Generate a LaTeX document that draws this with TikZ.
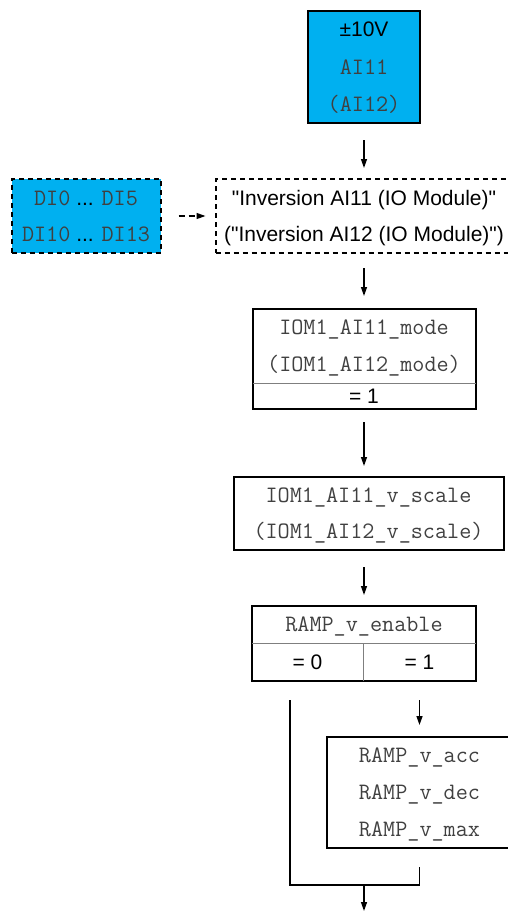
\documentclass[tikz,border=0pt]{standalone}
\usepackage{fontspec}
\setmainfont{Liberation Sans}
\usepackage{tikz}
\usetikzlibrary{positioning,arrows.meta}
\definecolor{blk}{HTML}{000000}
\definecolor{src}{HTML}{00B0F0}
\definecolor{par}{HTML}{404040}
\definecolor{sepc}{HTML}{7F7F7F}
\newcommand{\pn}[1]{{\fontsize{23.5}{0}\selectfont\ttfamily\color{par}#1}}
\newcommand{\qq}{\textquotedbl}
\tikzset{
  >={Triangle[length=9pt,width=6pt]},
  block/.style={draw=blk, line width=2pt, inner sep=0pt, outer sep=0pt, align=center,
                text depth=0pt, font=\fontsize{21}{37}\selectfont},
  srcbox/.style={block, fill=src},
  dblock/.style={block, dash pattern=on 5pt off 4pt},
  cell/.style={inner sep=0pt, outer sep=0pt, align=center, text depth=0pt,
               font=\fontsize{21}{37}\selectfont},
  frame/.style={draw=blk, line width=2pt},
  sep/.style={draw=sepc, line width=1pt},
  wire/.style={draw=blk, line width=1.3pt},
  l/.style={->, line width=1.3pt, draw=blk, shorten <=17pt, shorten >=11pt},
}
\begin{document}
\begin{tikzpicture}[x=1pt,y=-1pt]
  \useasboundingbox (0,0) rectangle (508,911);
  \node[srcbox,minimum width=112pt,minimum height=112pt,font=\fontsize{21}{37.5}\selectfont] (ain) at (364,67)
    {±10V\\\pn{AI11}\\\pn{(AI12)}};
  \node[dblock,below=56pt of ain,minimum width=297pt,minimum height=74pt,font=\fontsize{21}{36}\selectfont] (inv)
    {\qq Inversion AI11 (IO Module)\qq\\(\qq Inversion AI12 (IO Module)\qq)};
  \node[dblock,fill=src,left=55pt of inv,minimum width=149pt,minimum height=74pt,font=\fontsize{21}{36}\selectfont] (di)
    {\pn{DI0} ... \pn{DI5}\\\pn{DI10} ... \pn{DI13}};
  \node[cell,below=56pt of inv,minimum width=223pt,minimum height=74pt] (mode)
    {\pn{IOM1\_AI11\_mode}\\\pn{(IOM1\_AI12\_mode)}};
  \node[cell,below=0pt of mode,minimum width=223pt,minimum height=26pt] (modev) {= 1};
  \node[block,below=68pt of modev,xshift=4.5pt,minimum width=270pt,minimum height=73pt,font=\fontsize{21}{36}\selectfont] (vsc)
    {\pn{IOM1\_AI11\_v\_scale}\\\pn{(IOM1\_AI12\_v\_scale)}};
  \node[cell,below=56pt of vsc,xshift=-4.5pt,minimum width=224pt,minimum height=37pt] (ena) {\pn{RAMP\_v\_enable}};
  \node[cell,below=0pt of ena.south west,anchor=north west,minimum width=111pt,minimum height=38pt] (ena0) {= 0};
  \node[cell,right=0pt of ena0,minimum width=113pt,minimum height=38pt] (ena1) {= 1};
  \node[block,below=56pt of ena1,minimum width=186pt,minimum height=111pt] (ramp)
    {\pn{RAMP\_v\_acc}\\\pn{RAMP\_v\_dec}\\\pn{RAMP\_v\_max}};
  \coordinate[below=37pt of ramp.south] (rb);
  \coordinate (mrg) at (rb -| ena.south);
  \coordinate[below=26pt of mrg] (out);
  % split boxes
  \draw[frame] (mode.north west) rectangle (modev.south east);
  \draw[sep] (mode.south west) -- (mode.south east);
  \draw[frame] (ena.north west) rectangle (ena1.south east);
  \draw[sep] (ena.south west) -- (ena1.north east);
  \draw[sep] (ena0.north east) -- (ena0.south east);
  % connectors
  \draw[l] (ain) -- (inv);
  \draw[l,dash pattern=on 6pt off 4pt,shorten <=18pt,shorten >=10pt] (di) -- (inv);
  \draw[l,shorten <=15pt,shorten >=13pt] (inv) -- (modev |- mode.north);
  \draw[l,shorten <=13pt] (modev) -- (modev |- vsc.north);
  \draw[l] (ena |- vsc.south) -- (ena);
  \draw[l,shorten <=19pt,shorten >=12pt] (ena1) -- (ramp);
  \draw[wire] ([xshift=-17.5pt,yshift=-19pt]ena0.south) |- (rb) -- ([yshift=-19pt]ramp.south);
  \draw[l,shorten <=0pt,shorten >=0pt] (mrg) -- (out);
\end{tikzpicture}
\end{document}
